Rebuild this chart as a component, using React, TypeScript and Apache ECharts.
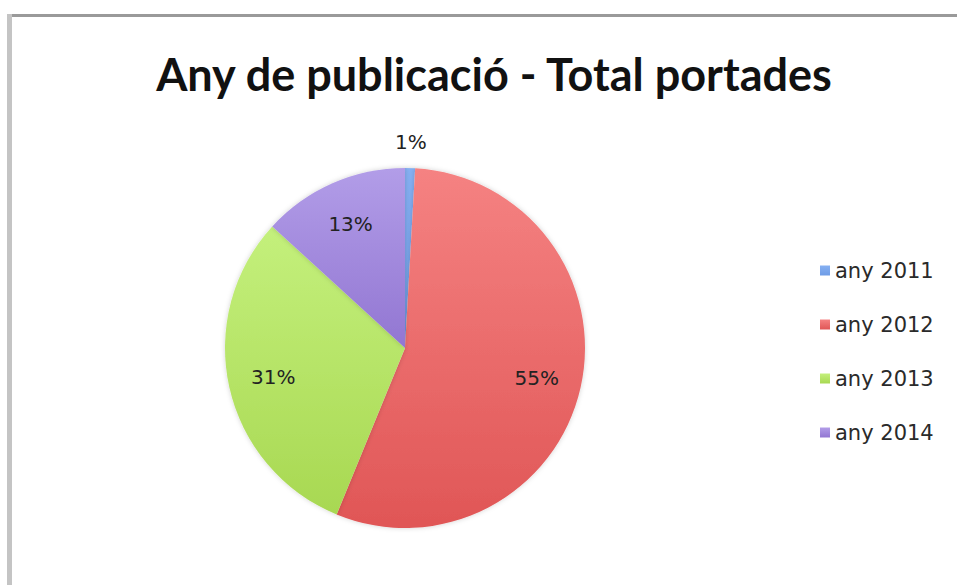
import React, { useEffect, useRef } from "react";
import * as echarts from "echarts";

const titleText = "Any de publicació - Total portades";
const categories = ["any 2011", "any 2012", "any 2013", "any 2014"];
const values = [0.9, 55.3, 30.6, 13.2];
const percentLabels = ["1%", "55%", "31%", "13%"];
const topColors = ["#86b0f2", "#f58282", "#c4f07c", "#b29de8"];
const bottomColors = ["#6e9ce6", "#e05656", "#a8d852", "#9276d2"];

export default function App() {
  const ref = useRef<HTMLDivElement>(null);
  useEffect(() => {
    if (!ref.current) return;
    const chart = echarts.init(ref.current, undefined, { renderer: "svg" });
    const mainData = categories.map((name, i) => ({
      name,
      value: values[i],
      itemStyle: {
        color: new echarts.graphic.LinearGradient(0, 0, 0, 1, [
          { offset: 0, color: topColors[i] },
          { offset: 1, color: bottomColors[i] },
        ]),
      },
    }));
    const labelFont = {
      fontFamily: "DejaVu Sans",
      fontSize: 20,
      color: "#222222",
    };
    const ghostData = (show: (i: number) => boolean) =>
      categories.map((name, i) => ({
        name,
        value: values[i],
        label: { show: show(i), formatter: percentLabels[i] },
      }));
    const ghostBase = {
      type: "pie",
      center: [405, 348],
      startAngle: 90,
      clockwise: true,
      silent: true,
      avoidLabelOverlap: false,
      itemStyle: { color: "rgba(0,0,0,0)" },
      labelLine: { show: false },
      emphasis: { disabled: true },
    };
    chart.setOption({
      animation: false,
      backgroundColor: "#ffffff",
      title: {
        text: titleText,
        left: 489,
        top: 46,
        textAlign: "center",
        textStyle: {
          fontFamily: "Lato",
          fontWeight: "bold",
          fontSize: 45,
          color: "#111111",
        },
      },
      legend: {
        orient: "vertical",
        left: 815,
        top: 254,
        data: categories,
        icon: "rect",
        itemWidth: 10,
        itemHeight: 10,
        itemGap: 31,
        selectedMode: false,
        textStyle: {
          fontFamily: "DejaVu Sans",
          fontSize: 21,
          color: "#2a2a2a",
          lineHeight: 23,
        },
      },
      graphic: [
        { type: "rect", shape: { x: 8, y: 14, width: 949, height: 3 }, style: { fill: "#9a9a9a" }, silent: true },
        { type: "rect", shape: { x: 7, y: 14, width: 5, height: 571 }, style: { fill: "#c4c4c4" }, silent: true },
      ],
      series: [
        {
          type: "pie",
          center: [405, 348],
          radius: [0, 180],
          startAngle: 90,
          clockwise: true,
          label: { show: false },
          labelLine: { show: false },
          emphasis: { disabled: true },
          data: mainData,
          itemStyle: { shadowBlur: 5, shadowColor: "rgba(0,0,0,0.18)" },
        },
        {
          ...ghostBase,
          radius: [0, 264],
          label: { position: "inside", ...labelFont },
          data: ghostData((i) => i !== 0),
        },
        {
          ...ghostBase,
          radius: [0, 406],
          label: { position: "inside", ...labelFont },
          data: ghostData((i) => i === 0),
        },
      ],
    });
    return () => chart.dispose();
  }, []);
  return (
    <div
      ref={ref}
      style={{ position: "fixed", left: 0, top: 0, width: 957, height: 585 }}
    />
  );
}
